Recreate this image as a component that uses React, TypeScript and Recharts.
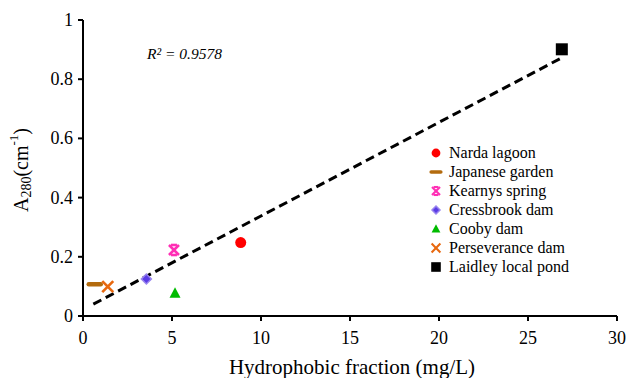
import React from 'react'
import { ScatterChart, Scatter, XAxis, YAxis } from 'recharts'

const xTicks = [0, 5, 10, 15, 20, 25, 30]
const yTicks = [0, 0.2, 0.4, 0.6, 0.8, 1]

const siteNames = [
  'Narda lagoon',
  'Japanese garden',
  'Kearnys spring',
  'Cressbrook dam',
  'Cooby dam',
  'Perseverance dam',
  'Laidley local pond',
]
const hydrophobic = [8.86, 0.66, 5.11, 3.56, 5.17, 1.39, 26.9]
const a280 = [0.248, 0.107, 0.223, 0.125, 0.077, 0.099, 0.901]

// trend line end points
const trendLine = [
  { x: 0.58, y: 0.04 },
  { x: 26.95, y: 0.874 },
]
const rSquared = 'R² = 0.9578'

const font = 'Liberation Serif'

type Mark = 'circle' | 'dash' | 'star' | 'diamond' | 'triangle' | 'x' | 'square'

const styles: { color: string; mark: Mark }[] = [
  { color: '#ff0000', mark: 'circle' },
  { color: '#b36b0e', mark: 'dash' },
  { color: '#ff2fb5', mark: 'star' },
  { color: '#5a3be6', mark: 'diamond' },
  { color: '#00bb00', mark: 'triangle' },
  { color: '#e8680f', mark: 'x' },
  { color: '#000000', mark: 'square' },
]

function drawMark(mark: Mark, cx: number, cy: number, color: string, s = 1) {
  switch (mark) {
    case 'circle':
      return <circle cx={cx} cy={cy} r={5.5 * s} fill={color} />
    case 'dash':
      return (
        <line x1={cx - 6 * s} y1={cy} x2={cx + 6 * s} y2={cy} stroke={color} strokeWidth={4.5 * s} strokeLinecap="round" />
      )
    case 'star':
      return (
        <g stroke={color} strokeWidth={2.6 * s}>
          <line x1={cx - 5 * s} y1={cy - 5 * s} x2={cx + 5 * s} y2={cy + 5 * s} />
          <line x1={cx - 5 * s} y1={cy + 5 * s} x2={cx + 5 * s} y2={cy - 5 * s} />
          <line x1={cx - 3 * s} y1={cy - 5 * s} x2={cx + 3 * s} y2={cy - 5 * s} />
          <line x1={cx - 3 * s} y1={cy + 5 * s} x2={cx + 3 * s} y2={cy + 5 * s} />
        </g>
      )
    case 'diamond':
      return (
        <polygon
          points={`${cx},${cy - 5 * s} ${cx + 5 * s},${cy} ${cx},${cy + 5 * s} ${cx - 5 * s},${cy}`}
          fill={color}
          stroke="#9a86ee"
          strokeWidth={1.5}
        />
      )
    case 'triangle':
      return (
        <polygon
          points={`${cx},${cy - 6 * s} ${cx + 5.5 * s},${cy + 4.5 * s} ${cx - 5.5 * s},${cy + 4.5 * s}`}
          fill={color}
        />
      )
    case 'x':
      return (
        <g stroke={color} strokeWidth={2.6 * s}>
          <line x1={cx - 5.5 * s} y1={cy - 5.5 * s} x2={cx + 5.5 * s} y2={cy + 5.5 * s} />
          <line x1={cx - 5.5 * s} y1={cy + 5.5 * s} x2={cx + 5.5 * s} y2={cy - 5.5 * s} />
        </g>
      )
    case 'square':
      return <rect x={cx - 6 * s} y={cy - 6 * s} width={12 * s} height={12 * s} fill={color} />
  }
}

function LegendBox() {
  return (
    <div
      style={{
        position: 'absolute',
        left: 428,
        top: 143,
        fontFamily: font,
        fontSize: 16,
        lineHeight: '19px',
        color: '#000',
      }}
    >
      {siteNames.map((name, i) => (
        <div key={name} style={{ height: 19, display: 'flex', alignItems: 'center' }}>
          <svg width={16} height={16} style={{ marginRight: 5 }}>
            {drawMark(styles[i].mark, 8, 8, styles[i].color, 0.8)}
          </svg>
          <span>{name}</span>
        </div>
      ))}
    </div>
  )
}

function XTick(props: any) {
  const { x, y, payload } = props
  return (
    <text x={x} y={y + 21} textAnchor="middle" fontFamily={font} fontSize={18} fill="#000">
      {payload.value}
    </text>
  )
}

function YTick(props: any) {
  const { x, y, payload } = props
  return (
    <text x={x - 3} y={y + 6} textAnchor="end" fontFamily={font} fontSize={18} fill="#000">
      {payload.value}
    </text>
  )
}

function YLabel(props: any) {
  const { viewBox } = props
  const cx = 21
  const cy = viewBox.y + viewBox.height / 2 + 2
  return (
    <text
      x={cx}
      y={cy}
      transform={`rotate(-90, ${cx}, ${cy})`}
      textAnchor="middle"
      dominantBaseline="central"
      fontFamily={font}
      fontSize={20}
      fill="#000"
    >
      A<tspan fontSize={14} dy={5}>280</tspan>
      <tspan dy={-5}>(cm</tspan>
      <tspan fontSize={13} dy={-8}>-1</tspan>
      <tspan dy={8}>)</tspan>
    </text>
  )
}

function XLabel() {
  return (
    <text x={352} y={374} textAnchor="middle" fontFamily={font} fontSize={21} fill="#000">
      Hydrophobic fraction (mg/L)
    </text>
  )
}

export default function App() {
  return (
    <div
      style={{
        position: 'absolute',
        left: 0,
        top: 0,
        width: 629,
        height: 378,
        background: '#fff',
        fontFamily: font,
      }}
    >
      <ScatterChart width={629} height={378} margin={{ top: 20, right: 12, left: 0, bottom: 0 }}>
        <XAxis
          type="number"
          dataKey="x"
          domain={[0, 30]}
          ticks={xTicks}
          interval={0}
          height={62}
          axisLine={{ stroke: '#000', strokeWidth: 2 }}
          tickLine={{ stroke: '#000', strokeWidth: 2 }}
          tickSize={5}
          tick={<XTick />}
          label={<XLabel />}
        />
        <YAxis
          type="number"
          dataKey="y"
          domain={[0, 1]}
          ticks={yTicks}
          interval={0}
          width={83}
          axisLine={{ stroke: '#000', strokeWidth: 2 }}
          tickLine={{ stroke: '#000', strokeWidth: 2 }}
          tickSize={5}
          tick={<YTick />}
          label={<YLabel />}
        />
        <Scatter
          name="trend"
          data={trendLine}
          line={{ stroke: '#000', strokeWidth: 3, strokeDasharray: '9 5' }}
          shape={() => <g />}
          isAnimationActive={false}
          legendType="none"
        />
        {siteNames.map((name, i) => (
          <Scatter
            key={name}
            name={name}
            data={[{ x: hydrophobic[i], y: a280[i] }]}
            fill={styles[i].color}
            shape={(p: any) => drawMark(styles[i].mark, p.cx, p.cy, styles[i].color)}
            isAnimationActive={false}
          />
        ))}
      </ScatterChart>
      <svg width={629} height={378} style={{ position: 'absolute', left: 0, top: 0, pointerEvents: 'none' }}>
        <text x={147} y={59} fontFamily={font} fontSize={15.5} fontStyle="italic" fill="#000">
          {rSquared}
        </text>
      </svg>
      <LegendBox />
    </div>
  )
}
